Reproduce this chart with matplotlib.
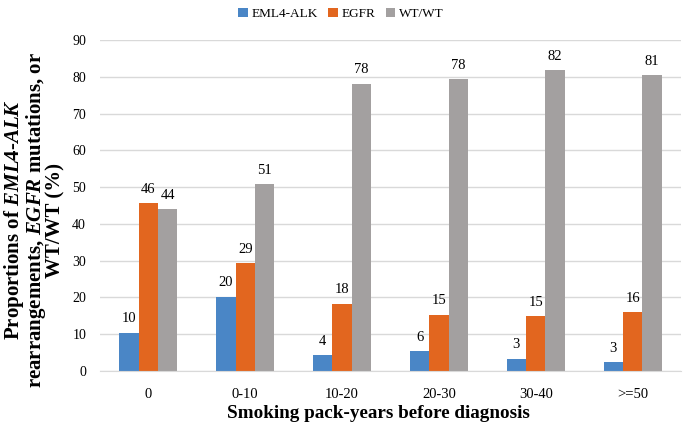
import matplotlib.pyplot as plt
import numpy as np

plt.rcParams['font.family'] = ['Liberation Serif', 'DejaVu Serif']
plt.rcParams['mathtext.fontset'] = 'custom'
plt.rcParams['mathtext.it'] = 'Liberation Serif:italic:bold'
plt.rcParams['mathtext.rm'] = 'Liberation Serif:bold'

categories = ["0", "0-10", "10-20", "20-30", "30-40", ">=50"]
series_names = ["EML4-ALK", "EGFR", "WT/WT"]

# bar heights
eml4_alk = [10.3, 20.1, 4.3, 5.4, 3.3, 2.4]
egfr = [45.6, 29.3, 18.2, 15.2, 14.9, 16.0]
wt_wt = [44.0, 50.8, 78.0, 79.3, 81.8, 80.4]

# printed labels
eml4_alk_lbl = ["10", "20", "4", "6", "3", "3"]
egfr_lbl = ["46", "29", "18", "15", "15", "16"]
wt_wt_lbl = ["44", "51", "78", "78", "82", "81"]

colors = ['#4a86c6', '#e2661f', '#a3a0a0']

fig = plt.figure(figsize=(6.85, 4.28), dpi=100)
ax = fig.add_axes([100 / 685, 1 - 371 / 428, 581 / 685, 331 / 428])

x = np.arange(len(categories))
w = 0.2
for i, (vals, lbls) in enumerate(zip([eml4_alk, egfr, wt_wt],
                                     [eml4_alk_lbl, egfr_lbl, wt_wt_lbl])):
    pos = x + (i - 1) * w
    ax.bar(pos, vals, width=w, color=colors[i], label=series_names[i], zorder=2)
    for px, v, t in zip(pos, vals, lbls):
        ax.annotate(t, (px, v), xytext=(0, 5.5), textcoords='offset points',
                    ha='center', va='bottom', fontsize=10.5)

ax.set_xlim(-0.5, len(categories) - 0.5)
ax.set_ylim(0, 90)
ax.set_yticks(range(0, 91, 10))
ax.set_xticks(x)
ax.set_xticklabels(categories, fontsize=10.5)
ax.tick_params(axis='y', labelsize=10, length=0, pad=10)
ax.tick_params(axis='x', length=0, pad=12)
ax.grid(axis='y', color='#d9d9d9', linewidth=1, zorder=0)
for s in ['top', 'right', 'left']:
    ax.spines[s].set_visible(False)
ax.spines['bottom'].set_color('#d9d9d9')

fig.text(378 / 685, 1 - 413 / 428, "Smoking pack-years before diagnosis",
         ha='center', va='center', fontsize=13.8, fontweight='bold')
fig.text(34 / 685, 1 - 220 / 428,
         "Proportions of $EML4$-$ALK$\nrearrangements, $EGFR$ mutations, or\nWT/WT (%)",
         ha='center', va='center', rotation=90, fontsize=15, fontweight='bold',
         linespacing=0.85)

fig.legend(loc='center', bbox_to_anchor=(341 / 685, 1 - 14 / 428), ncol=3,
           frameon=False, fontsize=9.5, handlelength=0.7, handleheight=0.7,
           handletextpad=0.3, columnspacing=0.8)

fig.savefig("out.png", dpi=100)
